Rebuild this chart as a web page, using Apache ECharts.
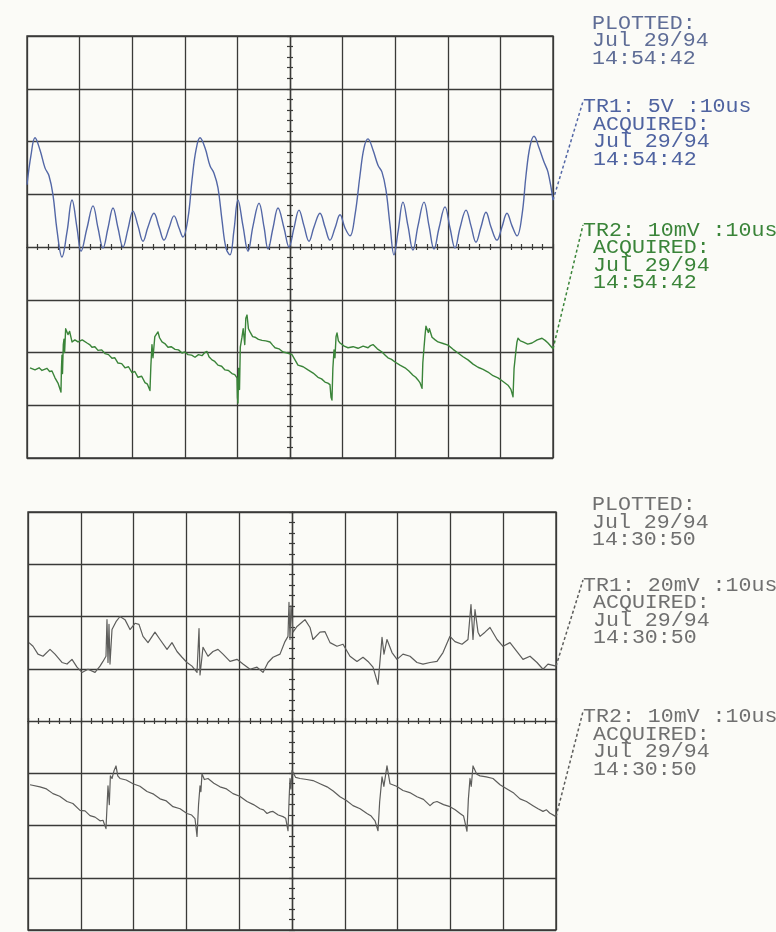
<!DOCTYPE html>
<html>
<head>
<meta charset="utf-8">
<script src="https://cdn.jsdelivr.net/npm/echarts@6/dist/echarts.min.js"></script>
<style>
  html, body { margin: 0; padding: 0; background: #fbfbf7; }
  #chart { width: 776px; height: 932px; }
</style>
</head>
<body>
<div id="chart"></div>
<script>
// Sweep time in µs from the left edge of the graticule (10 µs/div),
// trace values in screen divisions from the centre line.

// Upper screen, TR1 (5 V/div)
const top1Time = [0,0.76,1.52,2.47,3.42,4.18,4.94,5.70,6.65,7.60,
  8.56,9.51,10.27,11.41,12.55,13.50,14.45,15.40,16.35,17.30,
  18.25,19.20,20.15,21.10,22.05,23.00,24.14,25.10,26.05,27.00,
  27.95,28.90,29.66,30.61,31.37,32.13,32.89,33.84,34.79,35.55,
  36.31,37.07,37.83,38.59,39.35,40.11,41.06,42.02,42.97,44.11,
  45.06,45.82,46.77,47.72,48.86,49.81,50.76,51.71,52.66,53.61,
  54.56,55.70,56.65,57.60,58.56,59.51,60.46,61.41,62.36,63.31,
  64.07,64.83,65.78,66.73,67.49,68.25,69.01,69.77,70.53,71.48,
  72.43,73.38,74.33,75.48,76.43,77.38,78.33,79.47,80.42,81.37,
  82.32,83.46,84.41,85.36,86.31,87.26,88.21,89.35,90.30,91.25,
  92.21,93.16,94.11,94.87,95.63,96.39,97.34,98.29,99.05,100];
const top1Div = [1.18,1.74,2.07,1.84,1.50,1.35,0.99,0.32,-0.19,0.28,
  0.89,0.36,-0.08,0.36,0.78,0.36,-0.02,0.36,0.74,0.36,
  0.00,0.34,0.68,0.40,0.11,0.38,0.64,0.38,0.13,0.36,
  0.59,0.36,0.19,0.55,1.27,1.84,2.07,1.88,1.54,1.40,
  1.12,0.51,-0.02,-0.15,0.32,0.89,0.40,-0.08,0.40,0.83,
  0.38,-0.04,0.36,0.74,0.36,0.00,0.36,0.70,0.40,0.11,
  0.38,0.64,0.38,0.13,0.36,0.61,0.36,0.21,0.61,1.36,
  1.88,2.05,1.84,1.55,1.42,1.08,0.42,-0.15,0.28,0.85,
  0.40,-0.06,0.40,0.85,0.40,-0.04,0.36,0.76,0.36,-0.02,
  0.36,0.70,0.40,0.09,0.38,0.66,0.38,0.13,0.38,0.64,
  0.40,0.21,0.61,1.36,1.91,2.10,1.88,1.61,1.42,0.89];

// Upper screen, TR2 (10 mV/div)
const top2Time = [0.57,1.52,2.30,2.85,3.80,4.30,4.75,5.32,5.60,5.89,
  6.20,6.46,6.55,6.65,6.75,6.90,7.03,7.15,7.35,7.60,
  7.79,8.10,8.56,9.10,9.70,10.5,11.41,11.9,12.36,12.9,
  13.50,14.2,14.83,15.5,16.16,16.7,17.30,18.0,18.63,19.3,
  19.96,20.5,21.10,21.8,22.43,22.9,23.2,23.38,23.55,23.76,
  23.95,24.30,24.90,25.20,25.67,26.2,26.81,27.4,28.14,28.8,
  29.47,30.0,30.61,31.3,31.94,32.6,33.27,33.8,34.22,34.6,
  35.17,35.7,36.31,37.0,37.64,38.3,38.97,39.5,39.92,40.00,
  40.11,40.25,40.40,40.55,40.87,41.1,41.4,41.6,41.83,42.1,
  42.40,42.9,43.35,44.0,44.68,45.4,46.20,46.7,47.15,47.9,
  48.67,49.5,50.38,51.0,51.52,52.5,53.42,54.4,55.32,56.0,
  56.65,57.2,57.60,57.80,57.98,58.15,58.37,58.55,58.75,58.94,
  59.20,59.51,60.3,61.03,62.0,62.93,63.9,64.83,65.3,65.78,
  66.6,67.49,68.1,68.63,69.3,69.96,70.9,71.86,72.6,73.38,
  73.9,74.33,74.7,75.10,75.25,75.48,75.65,75.85,76.05,76.3,
  76.5,77.00,77.6,78.14,79.1,80.04,81.0,81.94,82.9,83.84,
  84.8,85.74,86.7,87.64,88.6,89.54,90.5,91.44,92.0,92.40,
  92.60,92.97,93.15,93.35,93.8,94.30,95.2,96.01,97.0,97.91,
  98.5,99.05,100];
const top2Div = [-2.29,-2.33,-2.29,-2.34,-2.30,-2.36,-2.35,-2.48,-2.45,-2.58,
  -2.55,-2.75,-2.30,-2.05,-2.40,-1.85,-1.75,-2.00,-1.55,-1.52,
  -1.66,-1.60,-1.80,-1.76,-1.80,-1.76,-1.82,-1.85,-1.90,-1.89,
  -1.96,-1.95,-2.02,-2.04,-2.11,-2.10,-2.20,-2.21,-2.29,-2.27,
  -2.38,-2.36,-2.47,-2.45,-2.57,-2.60,-2.58,-2.72,-2.25,-1.85,
  -2.10,-1.70,-1.61,-1.72,-1.80,-1.83,-1.90,-1.89,-1.94,-1.95,
  -2.01,-1.99,-2.04,-2.05,-2.09,-2.04,-2.06,-2.00,-1.98,-2.08,
  -2.14,-2.17,-2.24,-2.26,-2.33,-2.34,-2.40,-2.42,-2.48,-2.85,
  -2.96,-2.30,-2.70,-1.90,-1.71,-1.55,-1.85,-1.35,-1.29,-1.55,
  -1.61,-1.70,-1.71,-1.75,-1.77,-1.78,-1.80,-1.86,-1.91,-1.93,
  -1.99,-2.01,-2.04,-2.15,-2.24,-2.27,-2.33,-2.39,-2.47,-2.50,
  -2.56,-2.58,-2.61,-2.85,-2.90,-2.30,-1.95,-2.10,-1.70,-1.63,
  -1.78,-1.82,-1.88,-1.91,-1.89,-1.92,-1.88,-1.91,-1.87,-1.85,
  -1.93,-1.99,-2.05,-2.10,-2.13,-2.18,-2.24,-2.29,-2.35,-2.43,
  -2.47,-2.52,-2.57,-2.68,-2.20,-1.91,-1.70,-1.50,-1.48,-1.62,
  -1.55,-1.71,-1.76,-1.80,-1.83,-1.86,-1.94,-2.01,-2.08,-2.14,
  -2.22,-2.28,-2.32,-2.37,-2.44,-2.48,-2.55,-2.62,-2.70,-2.84,
  -2.30,-1.95,-1.80,-1.73,-1.78,-1.80,-1.84,-1.82,-1.76,-1.73,
  -1.77,-1.82,-1.93];

// Lower screen, TR1 (20 mV/div)
const bot1Time = [0.19,0.95,1.89,2.84,4.17,5.11,6.44,7.39,8.33,9.28,
  10.23,11.36,12.69,13.64,14.20,14.77,14.96,15.15,15.34,15.53,
  15.91,16.67,17.42,18.37,19.32,20.27,21.02,21.78,22.73,24.05,
  25.00,26.33,27.27,28.22,29.17,30.11,31.06,32.01,32.39,32.58,
  33.14,34.09,35.04,35.98,36.93,38.26,39.58,40.72,42.05,43.37,
  44.51,45.45,46.40,47.73,48.67,49.24,49.43,49.62,49.81,50.19,
  50.95,51.89,52.46,53.41,53.98,55.30,56.25,57.20,58.52,59.66,
  60.98,62.31,63.45,64.39,65.34,66.29,67.05,67.42,67.99,68.94,
  69.89,71.02,72.35,73.67,74.81,76.14,77.46,78.60,79.92,80.87,
  82.20,83.33,83.90,84.28,84.66,85.23,85.61,86.55,87.50,88.83,
  89.96,91.29,92.61,93.75,95.08,96.40,97.54,98.48,100];
const bot1Div = [1.50,1.43,1.28,1.24,1.37,1.28,1.12,1.09,1.18,1.03,
  0.93,0.99,0.93,1.05,1.14,1.24,1.94,1.12,1.85,1.09,
  1.75,1.90,2.00,1.94,1.75,1.87,1.85,1.62,1.50,1.70,
  1.56,1.37,1.50,1.33,1.22,1.12,1.05,0.93,1.77,0.88,
  1.41,1.24,1.33,1.37,1.28,1.14,1.18,1.09,0.99,1.03,
  0.93,1.12,1.22,1.28,1.52,1.62,2.27,1.56,2.21,1.70,
  1.81,1.89,1.94,1.79,1.56,1.70,1.71,1.50,1.43,1.47,
  1.24,1.14,1.22,1.14,1.03,0.70,1.60,1.28,1.56,1.31,
  1.18,1.28,1.24,1.12,1.09,1.12,1.14,1.31,1.62,1.52,
  1.47,1.56,2.23,1.56,2.13,1.70,1.62,1.70,1.79,1.56,
  1.43,1.50,1.33,1.18,1.24,1.12,0.99,1.09,1.05];

// Lower screen, TR2 (10 mV/div)
const bot2Time = [0.38,2.27,3.5,4.73,6.0,7.39,8.5,9.85,10.8,11.74,
  12.7,13.64,14.2,14.77,15.15,15.4,15.6,15.91,16.3,16.67,
  17.0,17.42,18.6,19.89,21.2,22.54,23.8,25.00,26.2,27.46,
  28.8,30.11,31.0,31.63,32.01,32.3,32.58,32.75,32.95,33.4,
  34.09,35.2,36.36,37.6,38.83,40.1,41.48,42.7,43.94,44.6,
  45.27,45.9,46.40,47.4,48.30,48.8,49.24,49.45,49.62,49.8,
  50.00,50.7,51.52,52.8,53.98,55.3,56.63,57.8,59.09,60.3,
  61.55,62.9,64.20,65.0,65.72,66.29,66.6,67.05,67.4,67.99,
  68.56,69.8,71.02,72.3,73.67,74.9,76.14,76.8,77.46,78.7,
  79.92,80.9,81.82,82.5,83.14,83.4,83.71,83.95,84.28,85.0,
  85.61,86.8,88.07,89.4,90.72,92.0,93.18,94.4,95.64,96.6,
  97.54,98.2,98.8,100];
const bot2Div = [-1.22,-1.26,-1.30,-1.39,-1.44,-1.54,-1.58,-1.71,-1.72,-1.81,
  -1.84,-1.91,-1.90,-2.06,-1.24,-1.60,-1.05,-1.10,-0.95,-0.86,
  -1.05,-1.10,-1.13,-1.20,-1.25,-1.35,-1.40,-1.49,-1.53,-1.64,
  -1.68,-1.77,-1.80,-1.87,-2.21,-1.60,-1.24,-1.35,-1.01,-1.12,
  -1.10,-1.19,-1.26,-1.30,-1.39,-1.44,-1.54,-1.60,-1.68,-1.70,
  -1.77,-1.74,-1.73,-1.80,-1.83,-1.86,-2.10,-1.50,-1.10,-1.30,
  -0.95,-1.08,-1.10,-1.12,-1.14,-1.20,-1.26,-1.34,-1.45,-1.52,
  -1.62,-1.68,-1.77,-1.82,-1.91,-2.10,-1.55,-1.07,-1.25,-0.86,
  -1.20,-1.25,-1.33,-1.37,-1.45,-1.50,-1.62,-1.56,-1.54,-1.60,
  -1.64,-1.70,-1.77,-1.82,-2.11,-1.50,-1.10,-1.25,-0.86,-1.02,
  -1.05,-1.07,-1.10,-1.22,-1.30,-1.38,-1.49,-1.54,-1.62,-1.68,
  -1.73,-1.70,-1.76,-1.83];

// Plot annotations
const topPlotted = ['PLOTTED:', 'Jul 29/94', '14:54:42'];
const topTr1Text = ['TR1: 5V :10us', 'ACQUIRED:', 'Jul 29/94', '14:54:42'];
const topTr2Text = ['TR2: 10mV :10us', 'ACQUIRED:', 'Jul 29/94', '14:54:42'];
const botPlotted = ['PLOTTED:', 'Jul 29/94', '14:30:50'];
const botTr1Text = ['TR1: 20mV :10us', 'ACQUIRED:', 'Jul 29/94', '14:30:50'];
const botTr2Text = ['TR2: 10mV :10us', 'ACQUIRED:', 'Jul 29/94', '14:30:50'];

// ---------------------------------------------------------------
const TRIGGER_AT = 50;           // graticule axes cross at mid-sweep
const GRID_INK = '#3a3a38';
const FONT = '20px "Liberation Mono", "DejaVu Sans Mono", monospace';

const grids = [
  { left: 27, top: 36, width: 526, height: 422 },
  { left: 28, top: 512, width: 528, height: 418 }
];

const pairs = (t, v) => t.map((x, i) => [x - TRIGGER_AT, v[i]]);

const tickStyle = { color: GRID_INK, width: 1.2 };
function xAxesFor(g) {
  const base = {
    gridIndex: g, type: 'value', min: -50, max: 50, interval: 10,
    axisLabel: { show: false },
    axisLine: { show: true, onZero: true, lineStyle: tickStyle },
    axisTick: { show: true, length: 3, lineStyle: tickStyle },
    minorTick: { show: true, splitNumber: 5, length: 3, lineStyle: tickStyle }
  };
  return [
    Object.assign({}, base, { position: 'bottom', splitLine: { show: true, lineStyle: { color: GRID_INK, width: 1.3 } } }),
    Object.assign({}, base, { position: 'top', splitLine: { show: false } })
  ];
}
function yAxesFor(g) {
  const base = {
    gridIndex: g, type: 'value', min: -4, max: 4, interval: 1,
    axisLabel: { show: false },
    axisLine: { show: true, onZero: true, lineStyle: tickStyle },
    axisTick: { show: true, length: 3, lineStyle: tickStyle },
    minorTick: { show: true, splitNumber: 5, length: 3, lineStyle: tickStyle }
  };
  return [
    Object.assign({}, base, { position: 'left', splitLine: { show: true, lineStyle: { color: GRID_INK, width: 1.3 } } }),
    Object.assign({}, base, { position: 'right', splitLine: { show: false } })
  ];
}

const traces = [
  { name: 'TR1', grid: 0, t: top1Time, v: top1Div, color: '#5367a6', width: 1.4, smooth: 0.4 },
  { name: 'TR2', grid: 0, t: top2Time, v: top2Div, color: '#3a8439', width: 1.4, smooth: false },
  { name: 'TR1', grid: 1, t: bot1Time, v: bot1Div, color: '#5d5d5b', width: 1.2, smooth: false },
  { name: 'TR2', grid: 1, t: bot2Time, v: bot2Div, color: '#5d5d5b', width: 1.2, smooth: false }
];

const option = {
  animation: false,
  backgroundColor: '#fbfbf7',
  grid: grids.map(g => Object.assign({ show: true, borderColor: GRID_INK, borderWidth: 1.4, backgroundColor: 'transparent' }, g)),
  xAxis: [].concat(xAxesFor(0), xAxesFor(1)),
  yAxis: [].concat(yAxesFor(0), yAxesFor(1)),
  series: traces.map(tr => ({
    name: tr.name, type: 'line',
    xAxisIndex: tr.grid * 2, yAxisIndex: tr.grid * 2,
    data: pairs(tr.t, tr.v),
    symbol: 'none', smooth: tr.smooth,
    lineStyle: { color: tr.color, width: tr.width, join: 'round' },
    z: 5
  }))
};

const chart = echarts.init(document.getElementById('chart'));
chart.setOption(option);

// Annotation blocks on the right of each screen
const LINE_PITCH = 17.5;
const CAP_SHIFT = 1.5;
const SCALE_X = 1.08;
const blocks = [
  { lines: topPlotted, x: 592, capTop: 15,    color: '#5f6d96' },
  { lines: topTr1Text, x: 583, capTop: 98.5,  color: '#4f63a0', trace: 0 },
  { lines: topTr2Text, x: 583, capTop: 222,   color: '#3a8439', trace: 1 },
  { lines: botPlotted, x: 592, capTop: 496.5, color: '#707070' },
  { lines: botTr1Text, x: 583, capTop: 577,   color: '#707070', trace: 2 },
  { lines: botTr2Text, x: 583, capTop: 708.5, color: '#707070', trace: 3 }
];

const elements = [];
blocks.forEach(b => {
  b.lines.forEach((str, i) => {
    const indent = (b.trace != null && i > 0) ? 10 : 0;
    elements.push({
      type: 'text', silent: true,
      x: b.x + indent, y: b.capTop + i * LINE_PITCH - CAP_SHIFT,
      scaleX: SCALE_X,
      style: { text: str, font: FONT, fill: b.color, textVerticalAlign: 'top', verticalAlign: 'top' }
    });
  });
  if (b.trace != null) {
    const tr = traces[b.trace];
    const last = tr.t.length - 1;
    const p = chart.convertToPixel({ xAxisIndex: tr.grid * 2, yAxisIndex: tr.grid * 2 },
      [tr.t[last] - TRIGGER_AT, tr.v[last]]);
    elements.push({
      type: 'line', silent: true,
      shape: { x1: p[0], y1: p[1], x2: b.x, y2: b.capTop + 3 },
      style: { stroke: tr.color, lineWidth: 1.5, lineDash: [3, 2.5] }
    });
  }
});
chart.setOption({ graphic: { elements: elements } });
</script>
</body>
</html>
